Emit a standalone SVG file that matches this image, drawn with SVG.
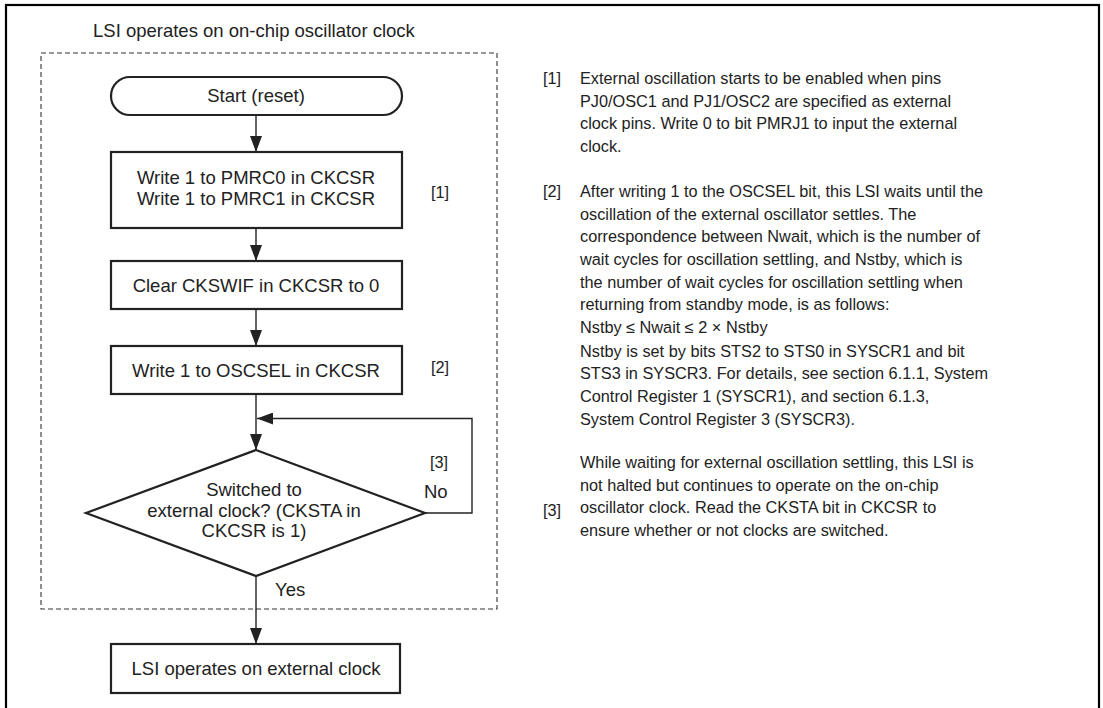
<svg xmlns="http://www.w3.org/2000/svg" width="1103" height="708" viewBox="0 0 1103 708">
<style>
text{font-family:"Liberation Sans",Arial,sans-serif;font-size:18.5px;fill:#222}
.c{text-anchor:middle}
.n{font-size:16.3px}
.box{fill:#fff;stroke:#222;stroke-width:2.2}
.ln{fill:none;stroke:#222;stroke-width:1.4}
</style>
<defs>
<marker id="ah" markerWidth="16" markerHeight="12" refX="16" refY="6" orient="auto" markerUnits="userSpaceOnUse">
<path d="M0,0 L16,6 L0,12 Z" fill="#222"/>
</marker>
</defs>
<rect x="0" y="0" width="1103" height="708" fill="#fff"/>
<rect x="6" y="5" width="1093" height="720" fill="none" stroke="#000" stroke-width="2.2"/>
<g id="frame">
<rect x="41" y="53" width="456" height="556" fill="none" stroke="#333" stroke-width="1.1" stroke-dasharray="5,3"/>
<text x="93" y="37">LSI operates on on-chip oscillator clock</text>
</g>
<g id="connectors">
<line class="ln" x1="256" y1="115" x2="256" y2="152" marker-end="url(#ah)"/>
<line class="ln" x1="256" y1="228" x2="256" y2="261" marker-end="url(#ah)"/>
<line class="ln" x1="256" y1="309" x2="256" y2="346" marker-end="url(#ah)"/>
<line class="ln" x1="256" y1="394" x2="256" y2="450" marker-end="url(#ah)"/>
<polyline class="ln" points="425,513 472,513 472,418.5 257,418.5" marker-end="url(#ah)"/>
<line class="ln" x1="256" y1="576" x2="256" y2="644" marker-end="url(#ah)"/>
<text x="424" y="498">No</text>
<text x="275" y="596">Yes</text>
</g>
<g id="start">
<rect class="box" x="111" y="77" width="291" height="38" rx="19"/>
<text class="c" x="256" y="102">Start (reset)</text>
</g>
<g id="pmrc">
<rect class="box" x="111" y="152" width="291" height="76"/>
<text class="c" x="256" y="184">Write 1 to PMRC0 in CKCSR</text>
<text class="c" x="256" y="205">Write 1 to PMRC1 in CKCSR</text>
<text class="n" x="431" y="198">[1]</text>
</g>
<g id="clear">
<rect class="box" x="111" y="261" width="291" height="48"/>
<text class="c" x="256" y="292">Clear CKSWIF in CKCSR to 0</text>
</g>
<g id="oscsel">
<rect class="box" x="111" y="346" width="291" height="48"/>
<text class="c" x="256" y="377">Write 1 to OSCSEL in CKCSR</text>
<text class="n" x="431" y="373">[2]</text>
</g>
<g id="decision">
<polygon class="box" points="256,450 425,513 256,576 86,513"/>
<text class="c" x="254" y="496">Switched to</text>
<text class="c" x="254" y="517">external clock? (CKSTA in</text>
<text class="c" x="254" y="537">CKCSR is 1)</text>
<text class="n" x="430" y="468">[3]</text>
</g>
<g id="external">
<rect class="box" x="111" y="644" width="289" height="49"/>
<text class="c" x="256" y="675">LSI operates on external clock</text>
</g>
<g id="notes" class="n">
<text class="n" x="543" y="84">[1]</text>
<text class="n" x="580" y="84">External oscillation starts to be enabled when pins</text>
<text class="n" x="580" y="106.7">PJ0/OSC1 and PJ1/OSC2 are specified as external</text>
<text class="n" x="580" y="129.3">clock pins. Write 0 to bit PMRJ1 to input the external</text>
<text class="n" x="580" y="152">clock.</text>
<text class="n" x="543" y="197">[2]</text>
<text class="n" x="580" y="197">After writing 1 to the OSCSEL bit, this LSI waits until the</text>
<text class="n" x="580" y="219.6">oscillation of the external oscillator settles. The</text>
<text class="n" x="580" y="242.3">correspondence between Nwait, which is the number of</text>
<text class="n" x="580" y="265">wait cycles for oscillation settling, and Nstby, which is</text>
<text class="n" x="580" y="287.6">the number of wait cycles for oscillation settling when</text>
<text class="n" x="580" y="310.3">returning from standby mode, is as follows:</text>
<text class="n" x="580" y="333">Nstby ≤ Nwait ≤ 2 × Nstby</text>
<text class="n" x="580" y="356.6">Nstby is set by bits STS2 to STS0 in SYSCR1 and bit</text>
<text class="n" x="580" y="379.3">STS3 in SYSCR3. For details, see section 6.1.1, System</text>
<text class="n" x="580" y="402">Control Register 1 (SYSCR1), and section 6.1.3,</text>
<text class="n" x="580" y="424.6">System Control Register 3 (SYSCR3).</text>
<text class="n" x="580" y="468">While waiting for external oscillation settling, this LSI is</text>
<text class="n" x="580" y="490.7">not halted but continues to operate on the on-chip</text>
<text class="n" x="543" y="516">[3]</text>
<text class="n" x="580" y="513.3">oscillator clock. Read the CKSTA bit in CKCSR to</text>
<text class="n" x="580" y="536">ensure whether or not clocks are switched.</text>
</g>
</svg>
